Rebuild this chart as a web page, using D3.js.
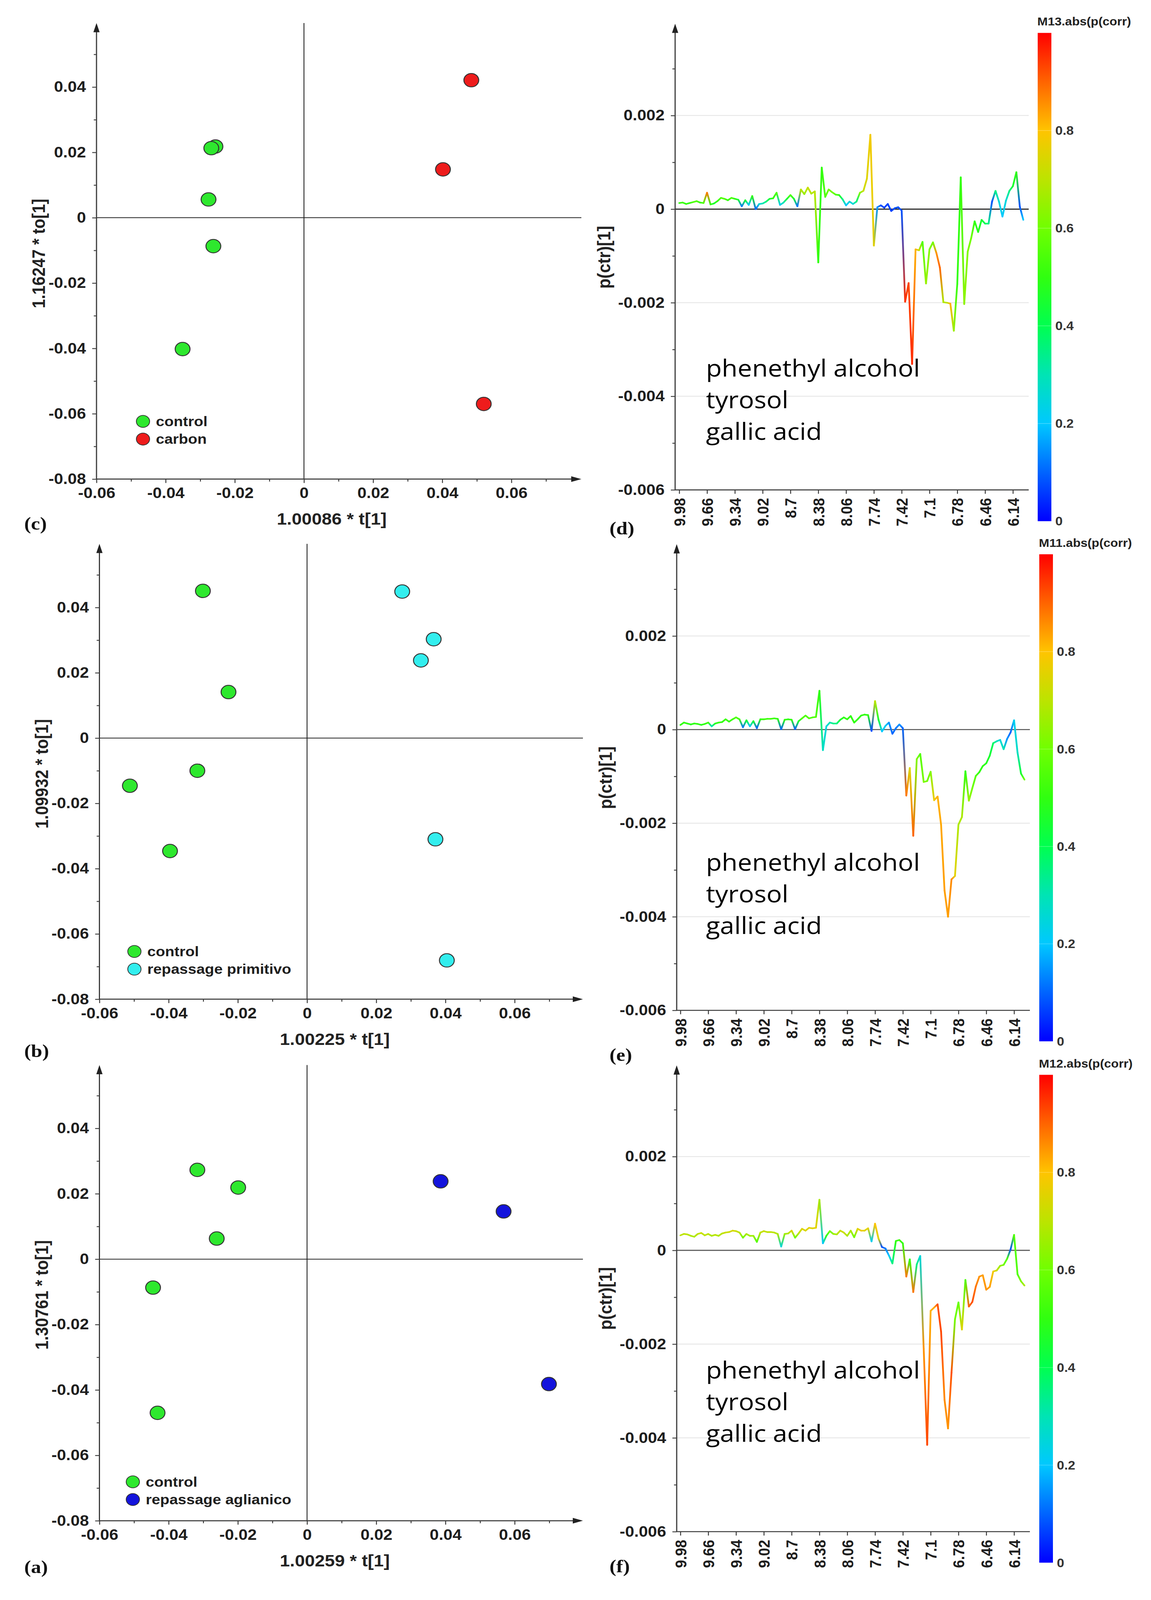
<!DOCTYPE html>
<html>
<head>
<meta charset="utf-8">
<title>OPLS-DA scores and loadings</title>
<script src="https://cdn.jsdelivr.net/npm/d3@7"></script>
<style>
  html, body { margin: 0; padding: 0; background: #fff; overflow: hidden; }
  svg { display: block; }
</style>
</head>
<body>
<div id="chart"></div>
<script>
// ---------- score plots (t[1] vs to[1]) ----------
const carbonControlT  = [-0.0256, -0.0268, -0.0276, -0.0262, -0.0351];
const carbonControlTo = [0.0218, 0.0213, 0.0056, -0.0087, -0.0402];
const carbonT  = [0.0484, 0.0402, 0.0520];
const carbonTo = [0.0421, 0.0148, -0.0570];

const primitivoControlT  = [-0.0301, -0.0227, -0.0317, -0.0512, -0.0396];
const primitivoControlTo = [0.0451, 0.0141, -0.0100, -0.0146, -0.0346];
const primitivoT  = [0.0275, 0.0366, 0.0329, 0.0371, 0.0404];
const primitivoTo = [0.0449, 0.0303, 0.0238, -0.0310, -0.0681];

const aglianicoControlT  = [-0.0317, -0.0199, -0.0261, -0.0445, -0.0432];
const aglianicoControlTo = [0.0273, 0.0219, 0.0063, -0.0087, -0.0470];
const aglianicoT  = [0.0386, 0.0568, 0.0699];
const aglianicoTo = [0.0238, 0.0146, -0.0382];

const scoreXTicks = [-0.06, -0.04, -0.02, 0, 0.02, 0.04, 0.06];
const scoreXMinor = [-0.05, -0.03, -0.01, 0.01, 0.03, 0.05, 0.07];
const scoreYTicks = [-0.08, -0.06, -0.04, -0.02, 0, 0.02, 0.04];
const scoreYMinor = [-0.07, -0.05, -0.03, -0.01, 0.01, 0.03, 0.05];

// ---------- loading line plots: p(ctr)[1] in units of 1e-4, coloured by abs(p(corr)) ----------
const pctrM13 = [
  1.3, 1.4, 1.1, 1.3, 1.5, 1.7, 1.4, 1.3, 3.5, 1.0,
  1.2, 1.7, 2.4, 2.2, 1.9, 2.4, 2.2, 2.0, 0.6, 1.9,
  0.9, 2.8, 0.0, 1.1, 1.2, 1.6, 2.2, 2.3, 3.5, 0.9,
  1.4, 2.2, 3.0, 2.2, 0.6, 4.2, 3.2, 4.6, 3.3, 3.8,
  -11.4, 8.9, 2.6, 4.2, 3.6, 3.1, 3.0, 2.1, 0.8, 1.6,
  1.1, 1.6, 3.5, 3.9, 6.5, 15.9, -7.8, 0.4, 0.8, 0.3,
  1.1, -0.4, 0.2, 0.4, -0.3, -19.8, -15.8, -33.1, -8.6, -8.8,
  -7.0, -15.9, -8.6, -7.1, -9.4, -12.5, -19.9, -20.0, -20.2, -26.0,
  -16.0, 6.8, -20.3, -9.1, -6.2, -2.6, -4.9, -2.3, -3.1, -3.1,
  1.6, 3.9, 1.6, -1.6, 1.8, 3.9, 4.9, 7.9, 0.5, -2.3
];
const corrM13 = [
  0.50, 0.52, 0.50, 0.50, 0.55, 0.55, 0.50, 0.55, 0.88, 0.50,
  0.45, 0.50, 0.55, 0.55, 0.50, 0.55, 0.50, 0.45, 0.12, 0.45,
  0.20, 0.50, 0.10, 0.25, 0.30, 0.35, 0.45, 0.50, 0.55, 0.22,
  0.30, 0.45, 0.55, 0.45, 0.12, 0.70, 0.65, 0.72, 0.68, 0.70,
  0.50, 0.50, 0.55, 0.60, 0.60, 0.55, 0.50, 0.35, 0.20, 0.25,
  0.25, 0.35, 0.62, 0.72, 0.75, 0.78, 0.76, 0.15, 0.08, 0.06,
  0.07, 0.06, 0.08, 0.08, 0.08, 0.95, 0.93, 0.96, 0.82, 0.72,
  0.55, 0.65, 0.62, 0.60, 0.85, 0.90, 0.68, 0.70, 0.82, 0.66,
  0.50, 0.50, 0.64, 0.62, 0.60, 0.50, 0.48, 0.45, 0.40, 0.35,
  0.08, 0.35, 0.25, 0.20, 0.25, 0.35, 0.45, 0.50, 0.08, 0.20
];
const pctrM11 = [
  1.0, 1.5, 1.3, 1.1, 1.3, 1.2, 1.0, 1.2, 1.5, 0.7,
  1.3, 1.5, 1.6, 2.2, 1.7, 2.2, 2.6, 2.2, 0.5, 2.0,
  0.7, 1.8, 0.3, 2.2, 2.2, 2.3, 2.3, 2.4, 2.3, 0.1,
  2.1, 2.2, 2.1, 0.1, 1.8, 2.4, 3.0, 2.4, 2.6, 2.7,
  8.3, -4.4, 0.7, 1.5, 1.3, 1.3, 2.1, 2.6, 2.2, 2.9,
  1.5, 2.2, 3.0, 3.2, 3.1, -0.3, 6.1, 2.1, -0.4, 0.8,
  1.5, -0.9, 0.3, 1.1, 0.3, -14.1, -8.2, -22.7, -6.3, -5.2,
  -11.2, -11.0, -9.0, -15.1, -14.3, -20.3, -34.4, -40.0, -32.0, -31.3,
  -20.3, -18.7, -8.9, -15.2, -12.5, -9.9, -9.1, -7.8, -7.2, -5.6,
  -2.9, -2.5, -2.2, -4.2, -2.0, -0.6, 2.0, -4.9, -9.4, -10.7
];
const corrM11 = [
  0.50, 0.50, 0.50, 0.48, 0.50, 0.50, 0.48, 0.50, 0.52, 0.30,
  0.48, 0.50, 0.50, 0.52, 0.50, 0.52, 0.55, 0.52, 0.12, 0.45,
  0.20, 0.45, 0.10, 0.50, 0.52, 0.52, 0.52, 0.52, 0.50, 0.10,
  0.50, 0.50, 0.50, 0.10, 0.45, 0.55, 0.55, 0.55, 0.55, 0.55,
  0.50, 0.28, 0.25, 0.30, 0.35, 0.35, 0.45, 0.50, 0.50, 0.50,
  0.50, 0.50, 0.50, 0.50, 0.50, 0.08, 0.70, 0.45, 0.20, 0.22,
  0.15, 0.10, 0.12, 0.15, 0.10, 0.88, 0.75, 0.90, 0.62, 0.55,
  0.62, 0.60, 0.62, 0.78, 0.82, 0.83, 0.84, 0.84, 0.86, 0.76,
  0.68, 0.68, 0.50, 0.65, 0.60, 0.55, 0.50, 0.50, 0.48, 0.45,
  0.38, 0.30, 0.25, 0.30, 0.15, 0.10, 0.22, 0.28, 0.45, 0.60
];
const pctrM12 = [
  3.2, 3.5, 3.4, 3.1, 2.9, 3.5, 3.7, 3.2, 3.5, 3.1,
  3.3, 3.1, 3.6, 3.8, 3.9, 4.2, 4.1, 3.8, 2.7, 3.5,
  3.1, 3.1, 1.8, 3.8, 4.1, 3.9, 3.9, 3.8, 3.5, 0.8,
  3.5, 3.6, 4.2, 2.7, 3.6, 4.6, 4.2, 4.8, 4.7, 4.8,
  10.8, 1.5, 3.1, 4.1, 3.5, 3.4, 4.2, 3.8, 3.1, 4.2,
  2.8, 4.6, 4.2, 4.2, 4.7, 1.9, 5.7, 2.5, 0.7, 0.4,
  -1.1, -2.8, 2.0, 2.2, 1.5, -5.6, -1.9, -8.9, -3.0, -1.2,
  -21.0, -41.5, -12.9, -12.2, -11.5, -17.3, -31.9, -38.0, -26.1, -14.7,
  -11.1, -16.9, -6.3, -12.0, -11.0, -7.7, -5.6, -5.3, -8.4, -7.8,
  -4.5, -4.3, -3.3, -3.1, -1.8, 0.2, 3.3, -5.1, -6.6, -7.5
];
const corrM12 = [
  0.70, 0.70, 0.70, 0.68, 0.68, 0.70, 0.72, 0.70, 0.70, 0.68,
  0.70, 0.68, 0.70, 0.72, 0.72, 0.74, 0.72, 0.70, 0.60, 0.68,
  0.66, 0.66, 0.55, 0.70, 0.72, 0.70, 0.70, 0.70, 0.68, 0.25,
  0.66, 0.68, 0.75, 0.60, 0.70, 0.75, 0.74, 0.76, 0.75, 0.76,
  0.68, 0.20, 0.50, 0.60, 0.65, 0.68, 0.72, 0.72, 0.68, 0.68,
  0.60, 0.75, 0.78, 0.75, 0.76, 0.22, 0.80, 0.75, 0.08, 0.12,
  0.20, 0.35, 0.50, 0.52, 0.50, 0.88, 0.50, 0.88, 0.35, 0.25,
  0.85, 0.93, 0.82, 0.83, 0.92, 0.93, 0.86, 0.85, 0.92, 0.60,
  0.58, 0.75, 0.55, 0.90, 0.92, 0.88, 0.85, 0.84, 0.85, 0.84,
  0.78, 0.72, 0.65, 0.60, 0.55, 0.08, 0.55, 0.55, 0.62, 0.68
];

const ppmTickIndex  = [0, 8, 16, 24, 32, 40, 48, 56, 64, 72, 80, 88, 96];
const ppmTickLabels = ["9.98", "9.66", "9.34", "9.02", "8.7", "8.38", "8.06", "7.74", "7.42", "7.1", "6.78", "6.46", "6.14"];
const loadYTicks = [-0.006, -0.004, -0.002, 0, 0.002];
const loadYMinor = [-0.005, -0.003, -0.001, 0.001, 0.003];
const loadGrid   = [-0.004, -0.002, 0.002];
const annotationLines = ["phenethyl alcohol", "tyrosol", "gallic acid"];

const colorbarTicks = [0, 0.2, 0.4, 0.6, 0.8];
const colorStops = [
  [0.0, "#0000ff"], [0.1, "#0064ff"], [0.2, "#00c8ff"], [0.3, "#00e4b4"],
  [0.4, "#00ff50"], [0.5, "#30ff10"], [0.6, "#70ff00"], [0.7, "#bce400"],
  [0.8, "#ffc400"], [0.9, "#ff6400"], [1.0, "#ff0000"]
];

// ---------- drawing ----------
const W = 2946, H = 4522;
const sans = "'Liberation Sans', Arial, sans-serif";
// the figure is laid out in 2946 x 4522 units and stretched to whatever viewport we get
const vw = window.innerWidth || W, vh = window.innerHeight || H;
const svg = d3.select("#chart").append("svg")
  .attr("width", vw).attr("height", vh)
  .attr("viewBox", `0 0 ${W} ${H}`)
  .attr("preserveAspectRatio", "none")
  .style("background", "#fff");
const defs = svg.append("defs");

const jet = d3.scaleLinear()
  .domain(colorStops.map(d => d[0]))
  .range(colorStops.map(d => d[1]))
  .interpolate(d3.interpolateRgb)
  .clamp(true);

const fmt = d => String(d);
const axisColor = "#3c3c3c";

function styleTicks(sel, size) {
  sel.select(".domain").remove();
  sel.selectAll(".tick line").attr("stroke", axisColor).attr("stroke-width", 2.5);
  sel.selectAll(".tick text")
    .attr("font-family", sans).attr("font-weight", "bold")
    .attr("font-size", size).attr("fill", "#1e1e1e");
}

function arrowUp(g, x, yTip) {
  g.append("path").attr("d", `M${x},${yTip} l-8,26 l16,0 z`).attr("fill", "#222");
}
function arrowRight(g, xTip, y) {
  g.append("path").attr("d", `M${xTip},${y} l-26,-8 l0,16 z`).attr("fill", "#222");
}

function panelLabel(text, x, y) {
  svg.append("text").attr("x", x).attr("y", y).text(text)
    .attr("font-family", "'Liberation Serif', 'Times New Roman', serif")
    .attr("font-weight", "bold").attr("font-size", 52).attr("fill", "#111");
}

function scorePanel(p) {
  const x = d3.scaleLinear().domain([-0.06, 0.06]).range(p.xRange);
  const y = d3.scaleLinear().domain([-0.08, 0.04]).range(p.yRange);
  const g = svg.append("g");
  const ax = x(-0.06), ay = y(-0.08);

  // crosshair through origin
  g.append("line").attr("x1", x(0)).attr("x2", x(0)).attr("y1", p.top).attr("y2", ay)
    .attr("stroke", "#222").attr("stroke-width", 2.2);
  g.append("line").attr("x1", ax).attr("x2", p.right).attr("y1", y(0)).attr("y2", y(0))
    .attr("stroke", "#222").attr("stroke-width", 2.2);

  // ticks
  g.append("g").attr("transform", `translate(0,${ay})`)
    .call(d3.axisBottom(x).tickValues(scoreXMinor).tickSize(7).tickFormat(""))
    .call(s => styleTicks(s, 42));
  g.append("g").attr("transform", `translate(0,${ay})`)
    .call(d3.axisBottom(x).tickValues(scoreXTicks).tickSize(11).tickPadding(13).tickFormat(fmt))
    .call(s => styleTicks(s, 42));
  g.append("g").attr("transform", `translate(${ax},0)`)
    .call(d3.axisLeft(y).tickValues(scoreYMinor).tickSize(7).tickFormat(""))
    .call(s => styleTicks(s, 42));
  g.append("g").attr("transform", `translate(${ax},0)`)
    .call(d3.axisLeft(y).tickValues(scoreYTicks).tickSize(11).tickPadding(16).tickFormat(fmt))
    .call(s => styleTicks(s, 42));

  // axis lines with arrows
  g.append("line").attr("x1", ax).attr("x2", ax).attr("y1", ay).attr("y2", p.top + 20)
    .attr("stroke", axisColor).attr("stroke-width", 3);
  g.append("line").attr("x1", ax).attr("x2", p.right - 20).attr("y1", ay).attr("y2", ay)
    .attr("stroke", axisColor).attr("stroke-width", 3);
  arrowUp(g, ax, p.top);
  arrowRight(g, p.right, ay);

  // axis titles
  g.append("text").attr("x", x(0) + 71).attr("y", ay + 129).attr("text-anchor", "middle")
    .attr("font-family", sans).attr("font-weight", "bold").attr("font-size", 46).attr("fill", "#222")
    .text(p.xTitle);
  g.append("text")
    .attr("transform", `translate(${ax - 148},${y(0) + 101}) rotate(-90)`)
    .attr("text-anchor", "middle").attr("dy", "0.35em")
    .attr("font-family", sans).attr("font-weight", "bold").attr("font-size", 46).attr("fill", "#222")
    .text(p.yTitle);

  // samples
  p.groups.forEach(grp => {
    g.append("g").selectAll("circle")
      .data(d3.zip(grp.t, grp.to))
      .join("circle")
      .attr("cx", d => x(d[0])).attr("cy", d => y(d[1])).attr("r", 19)
      .attr("fill", grp.color).attr("stroke", "#333").attr("stroke-width", 2.5);
  });

  // legend
  const lg = g.append("g").attr("transform", `translate(${p.legend[0]},${p.legend[1]})`);
  p.groups.forEach((grp, k) => {
    lg.append("circle").attr("cx", 0).attr("cy", k * 50).attr("r", 17)
      .attr("fill", grp.color).attr("stroke", "#333").attr("stroke-width", 2);
    lg.append("text").attr("x", 33).attr("y", k * 50).attr("dy", "0.35em")
      .attr("font-family", sans).attr("font-weight", "bold").attr("font-size", 39).attr("fill", "#1e1e1e")
      .text(grp.name);
  });
}

function loadingPanel(p) {
  const x = d3.scaleLinear().domain([0, 96]).range(p.xRange);
  const y = d3.scaleLinear().domain([-0.006, 0.002]).range(p.yRange);
  const g = svg.append("g");
  const ay = y(-0.006);

  // grid
  g.append("g").selectAll("line").data(loadGrid).join("line")
    .attr("x1", p.axisX).attr("x2", p.right)
    .attr("y1", d => y(d)).attr("y2", d => y(d))
    .attr("stroke", "#e6e6e6").attr("stroke-width", 2.5);

  // zero line
  g.append("line").attr("x1", p.axisX).attr("x2", p.right).attr("y1", y(0)).attr("y2", y(0))
    .attr("stroke", p.zeroColor).attr("stroke-width", 3);

  // y ticks
  g.append("g").attr("transform", `translate(${p.axisX},0)`)
    .call(d3.axisLeft(y).tickValues(loadYMinor).tickSize(7).tickFormat(""))
    .call(s => styleTicks(s, 42));
  g.append("g").attr("transform", `translate(${p.axisX},0)`)
    .call(d3.axisLeft(y).tickValues(loadYTicks).tickSize(11).tickPadding(16).tickFormat(fmt))
    .call(s => styleTicks(s, 42));

  // x ticks (variable labels, rotated)
  const xa = g.append("g").attr("transform", `translate(0,${ay})`)
    .call(d3.axisBottom(x).tickValues(ppmTickIndex).tickSize(11)
      .tickFormat((d, k) => ppmTickLabels[k]))
    .call(s => styleTicks(s, 41));
  xa.selectAll(".tick text")
    .attr("transform", "rotate(-90)")
    .attr("text-anchor", "end")
    .attr("x", -23).attr("y", 0).attr("dy", "0.36em");

  // axes
  g.append("line").attr("x1", p.axisX).attr("x2", p.axisX).attr("y1", ay).attr("y2", p.top + 20)
    .attr("stroke", axisColor).attr("stroke-width", 3);
  g.append("line").attr("x1", p.axisX).attr("x2", p.right).attr("y1", ay).attr("y2", ay)
    .attr("stroke", axisColor).attr("stroke-width", 3);
  arrowUp(g, p.axisX, p.top);

  // y title
  g.append("text")
    .attr("transform", `translate(${p.axisX - 182},${y(0) + 136}) rotate(-90)`)
    .attr("text-anchor", "middle").attr("dy", "0.35em")
    .attr("font-family", sans).attr("font-weight", "bold").attr("font-size", 47).attr("fill", "#222")
    .text("p(ctr)[1]");

  // coloured line: each segment blends the colours of its two variables
  const vals = p.values.map(v => v * 1e-4);
  const segs = d3.range(vals.length - 1).map(i => ({
    x1: x(i), y1: y(vals[i]), x2: x(i + 1), y2: y(vals[i + 1]),
    c1: jet(p.corr[i]), c2: jet(p.corr[i + 1]), id: `${p.id}-seg-${i}`
  }));
  const grads = defs.selectAll(null).data(segs).join("linearGradient")
    .attr("id", d => d.id).attr("gradientUnits", "userSpaceOnUse")
    .attr("x1", d => d.x1).attr("y1", d => d.y1).attr("x2", d => d.x2).attr("y2", d => d.y2);
  grads.append("stop").attr("offset", 0).attr("stop-color", d => d.c1);
  grads.append("stop").attr("offset", 1).attr("stop-color", d => d.c2);
  g.append("g").selectAll("line").data(segs).join("line")
    .attr("x1", d => d.x1).attr("y1", d => d.y1).attr("x2", d => d.x2).attr("y2", d => d.y2)
    .attr("stroke", d => `url(#${d.id})`).attr("stroke-width", 4.5)
    .attr("stroke-linecap", "round");

  // annotation
  const ann = g.append("text").attr("font-family", "'Open Sans', 'Noto Sans', sans-serif")
    .attr("font-size", 66).attr("fill", "#000");
  annotationLines.forEach((t, k) => {
    ann.append("tspan").attr("x", p.annot[0]).attr("y", y(0) + p.annot[1] + k * 89.5).text(t);
  });

  // colour bar
  const cb = p.cbar;
  const cs = d3.scaleLinear().domain([0, 1]).range([cb.bottom, cb.top]);
  const gid = `${p.id}-cbar`;
  const lgd = defs.append("linearGradient").attr("id", gid)
    .attr("x1", 0).attr("y1", 1).attr("x2", 0).attr("y2", 0);
  lgd.selectAll("stop").data(colorStops).join("stop")
    .attr("offset", d => d[0]).attr("stop-color", d => d[1]);
  g.append("rect").attr("x", cb.x).attr("y", cs(1)).attr("width", 35)
    .attr("height", cs(0) - cs(1)).attr("fill", `url(#${gid})`);
  g.append("g").selectAll("line").data(colorbarTicks.filter(d => d > 0)).join("line")
    .attr("x1", cb.x).attr("x2", cb.x + 35).attr("y1", d => cs(d)).attr("y2", d => cs(d))
    .attr("stroke", "#ffffff").attr("stroke-opacity", 0.3).attr("stroke-width", 1.5);
  g.append("g").selectAll("text").data(colorbarTicks).join("text")
    .attr("x", cb.x + 45).attr("y", d => cs(d)).attr("dy", "0.36em")
    .attr("font-family", sans).attr("font-weight", "bold").attr("font-size", 34).attr("fill", "#333")
    .text(fmt);
  g.append("text").attr("x", cb.x - 1).attr("y", cb.top - 21)
    .attr("font-family", sans).attr("font-weight", "bold").attr("font-size", 32).attr("fill", "#222")
    .text(p.cbarTitle);
}

// ---------- panels ----------
scorePanel({
  xRange: [247, 1309], yRange: [1354, 246], top: 65, right: 1488,
  xTitle: "1.00086 * t[1]", yTitle: "1.16247 * to[1]", legend: [366, 1191],
  groups: [
    { name: "control", color: "#2ee82e", t: carbonControlT, to: carbonControlTo },
    { name: "carbon", color: "#ee1c1c", t: carbonT, to: carbonTo }
  ]
});
scorePanel({
  xRange: [254.5, 1317.3], yRange: [2824, 1717], top: 1537, right: 1492,
  xTitle: "1.00225 * t[1]", yTitle: "1.09932 * to[1]", legend: [344, 2689],
  groups: [
    { name: "control", color: "#2ee82e", t: primitivoControlT, to: primitivoControlTo },
    { name: "repassage primitivo", color: "#33eeee", t: primitivoT, to: primitivoTo }
  ]
});
scorePanel({
  xRange: [254.5, 1317.3], yRange: [4298, 3189], top: 3010, right: 1492,
  xTitle: "1.00259 * t[1]", yTitle: "1.30761 * to[1]", legend: [340, 4188],
  groups: [
    { name: "control", color: "#2ee82e", t: aglianicoControlT, to: aglianicoControlTo },
    { name: "repassage aglianico", color: "#1414dc", t: aglianicoT, to: aglianicoTo }
  ]
});

loadingPanel({
  id: "m13", values: pctrM13, corr: corrM13, cbarTitle: "M13.abs(p(corr)", zeroColor: "#1e1e1e",
  xRange: [1738.5, 2592.5], yRange: [1384.5, 326.5], axisX: 1728, right: 2633, top: 67,
  annot: [1807, 473], cbar: { x: 2656, top: 93, bottom: 1473 }
});
loadingPanel({
  id: "m11", values: pctrM11, corr: corrM11, cbarTitle: "M11.abs(p(corr)", zeroColor: "#555555",
  xRange: [1741.5, 2595.5], yRange: [2855.5, 1797.5], axisX: 1732, right: 2636, top: 1538,
  annot: [1807, 399], cbar: { x: 2660, top: 1566.5, bottom: 2943 }
});
loadingPanel({
  id: "m12", values: pctrM12, corr: corrM12, cbarTitle: "M12.abs(p(corr)", zeroColor: "#555555",
  xRange: [1741.5, 2595.5], yRange: [4328.8, 3268.8], axisX: 1732, right: 2636, top: 3011,
  annot: [1807, 362], cbar: { x: 2660, top: 3037.7, bottom: 4416.5 }
});

panelLabel("(c)", 62, 1497);
panelLabel("(d)", 1560, 1510);
panelLabel("(b)", 62, 2988);
panelLabel("(e)", 1560, 2998);
panelLabel("(a)", 62, 4446);
panelLabel("(f)", 1560, 4444);
</script>
</body>
</html>
